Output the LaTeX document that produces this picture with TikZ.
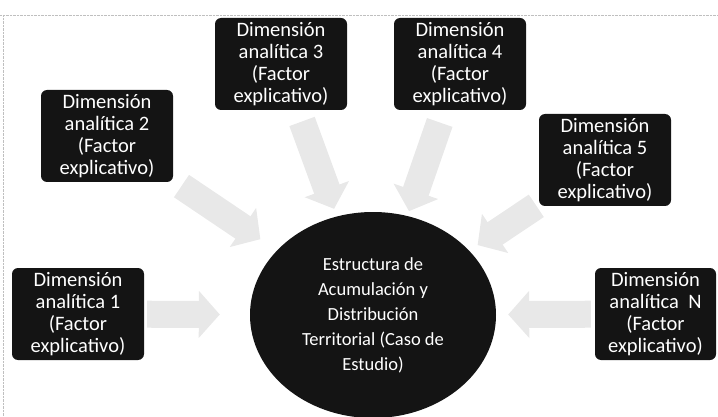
\documentclass[tikz,border=0pt]{standalone}
\usepackage{fontspec}
\setmainfont{Carlito}
\usetikzlibrary{shapes.geometric,arrows.meta}

\begin{document}
\begin{tikzpicture}[x=1pt, y=-1pt,
  dimbox/.style={fill=black!92, text=white, rounded corners=6pt, minimum width=132pt, minimum height=92pt,
    inner sep=1pt, align=center, font=\fontsize{20.5}{22}\selectfont},
  hub/.style={ellipse, fill=black!92, text=white, minimum width=246pt, minimum height=206pt,
    inner sep=0pt, align=center, font=\fontsize{18.5}{25}\selectfont},
  feed/.style={line width=27pt, draw=gray!18, -{Triangle[length=21pt, width=46pt]}}]

\useasboundingbox (0,0) rectangle (718,417);

% scanned frame
\draw[gray!50, densely dotted] (0,15) -- (718,15);
\draw[gray!50, densely dotted] (3,15) -- (3,417);

\node[hub] (hub) at (373,315) {Estructura de\\Acumulación y\\Distribución\\Territorial (Caso de\\Estudio)};

\node[dimbox] (dim1) at (78,314) {Dimensión\\analítica 1\\(Factor\\explicativo)};
\node[dimbox] (dim2) at (107,136) {Dimensión\\analítica 2\\(Factor\\explicativo)};
\node[dimbox] (dim3) at (281,64) {Dimensión\\analítica 3\\(Factor\\explicativo)};
\node[dimbox] (dim4) at (460,64) {Dimensión\\analítica 4\\(Factor\\explicativo)};
\node[dimbox] (dim5) at (605,160) {Dimensión\\analítica 5\\(Factor\\explicativo)};
\node[dimbox, minimum width=121pt] (dimN) at (655.5,314) {Dimensión\\analítica~ N\\(Factor\\explicativo)};

% arrows towards the case study
\draw[feed, shorten <=3pt, shorten >=30pt] (dim1) -- (hub);
\draw[feed, shorten <=10pt, shorten >=20pt] (dim2) -- (hub);
\draw[feed, shorten <=12pt, shorten >=8pt] (dim3) -- (hub);
\draw[feed, shorten <=13pt, shorten >=5pt] (dim4) -- (hub);
\draw[feed, shorten <=3pt, shorten >=10pt] (dim5) -- (hub);
\draw[feed, shorten <=4pt, shorten >=12pt] (dimN) -- (hub);

\end{tikzpicture}
\end{document}
